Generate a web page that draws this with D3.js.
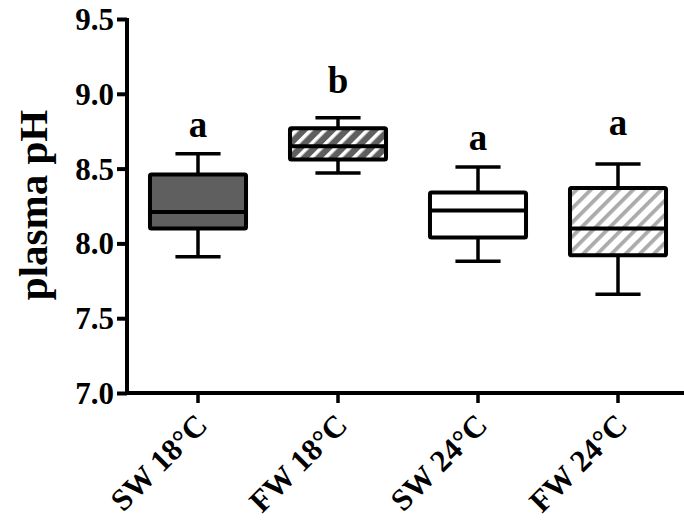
<!DOCTYPE html>
<html>
<head>
<meta charset="utf-8">
<script src="https://cdn.jsdelivr.net/npm/d3@7"></script>
<style>
  html, body { margin: 0; padding: 0; background: #fff; }
  svg { display: block; }
  text { font-family: "Liberation Serif", "Times New Roman", serif; font-weight: bold; fill: #000; }
</style>
</head>
<body>
<svg id="chart" width="684" height="523"></svg>
<script>
// ---- data ----
const categories = ["SW 18°C", "FW 18°C", "SW 24°C", "FW 24°C"];
const whiskerLow  = [7.91, 8.47, 7.88, 7.66];
const q1          = [8.10, 8.56, 8.04, 7.92];
const median      = [8.21, 8.65, 8.22, 8.10];
const q3          = [8.46, 8.77, 8.34, 8.37];
const whiskerHigh = [8.60, 8.84, 8.51, 8.53];
const sigLetters  = ["a", "b", "a", "a"];
const letterLevel = [8.71, 9.005, 8.625, 8.725];
const yTicks      = [7.0, 7.5, 8.0, 8.5, 9.0, 9.5];
const fills       = ["solid-dark", "hatch-dark", "white", "hatch-light"];

(function () {
const svg = d3.select("#chart");
const leftX = 127, topY = 19, bottomY = 393;

const y = d3.scaleLinear().domain([7.0, 9.5]).range([bottomY, topY]);
const x = d3.scaleBand().domain(categories).range([128, 688]).padding(0);
const boxW = x.bandwidth() * 0.686;
const capW = boxW * 0.47;
const cx = c => x(c) + x.bandwidth() / 2;

// patterns
const defs = svg.append("defs");
const p1 = defs.append("pattern").attr("id", "hatch-dark")
  .attr("patternUnits", "userSpaceOnUse").attr("width", 10).attr("height", 10)
  .attr("patternTransform", "rotate(45)");
p1.append("rect").attr("width", 10).attr("height", 10).attr("fill", "#5f5f5f");
p1.append("rect").attr("width", 3.6).attr("height", 10).attr("fill", "#ffffff");
const p2 = defs.append("pattern").attr("id", "hatch-light")
  .attr("patternUnits", "userSpaceOnUse").attr("width", 10).attr("height", 10)
  .attr("patternTransform", "rotate(45)");
p2.append("rect").attr("width", 10).attr("height", 10).attr("fill", "#ffffff");
p2.append("rect").attr("width", 3.8).attr("height", 10).attr("fill", "#ababab");

const fillOf = k => k === "solid-dark" ? "#5f5f5f" : k === "white" ? "#ffffff" : `url(#${k})`;

const data = categories.map((c, i) => ({
  c, lo: whiskerLow[i], q1: q1[i], med: median[i], q3: q3[i], hi: whiskerHigh[i],
  letter: sigLetters[i], ly: letterLevel[i], fill: fills[i]
}));

const g = svg.append("g").selectAll("g").data(data).join("g");

g.append("line").attr("x1", d => cx(d.c)).attr("x2", d => cx(d.c))
  .attr("y1", d => y(d.hi)).attr("y2", d => y(d.lo))
  .attr("stroke", "#000").attr("stroke-width", 3.5);
g.append("line").attr("x1", d => cx(d.c) - capW / 2).attr("x2", d => cx(d.c) + capW / 2)
  .attr("y1", d => y(d.hi)).attr("y2", d => y(d.hi))
  .attr("stroke", "#000").attr("stroke-width", 3.5);
g.append("line").attr("x1", d => cx(d.c) - capW / 2).attr("x2", d => cx(d.c) + capW / 2)
  .attr("y1", d => y(d.lo)).attr("y2", d => y(d.lo))
  .attr("stroke", "#000").attr("stroke-width", 3.5);
g.append("rect").attr("x", d => cx(d.c) - boxW / 2).attr("width", boxW)
  .attr("y", d => y(d.q3)).attr("height", d => y(d.q1) - y(d.q3))
  .attr("fill", d => fillOf(d.fill)).attr("stroke", "#000").attr("stroke-width", 4)
  .attr("rx", 1.5);
g.append("line").attr("x1", d => cx(d.c) - boxW / 2).attr("x2", d => cx(d.c) + boxW / 2)
  .attr("y1", d => y(d.med)).attr("y2", d => y(d.med))
  .attr("stroke", "#000").attr("stroke-width", 4);
g.append("text").attr("x", d => cx(d.c)).attr("y", d => y(d.ly))
  .attr("text-anchor", "middle").attr("font-size", 37).text(d => d.letter);

// y axis
const yAxis = svg.append("g").attr("transform", `translate(${leftX},0)`)
  .call(d3.axisLeft(y).tickValues(yTicks).tickFormat(d3.format(".1f")).tickSize(10).tickPadding(3));
yAxis.select(".domain").attr("stroke", "#000").attr("stroke-width", 4).attr("d", `M0,${topY - 1}V${bottomY + 2}`);
yAxis.selectAll(".tick line").attr("stroke", "#000").attr("stroke-width", 4);
yAxis.selectAll(".tick text").attr("font-size", 31).attr("font-family", "Liberation Serif, serif")
  .attr("font-weight", "bold").attr("fill", "#000").attr("dy", "0.34em");

// x axis
const xAxis = svg.append("g").attr("transform", `translate(0,${bottomY})`)
  .call(d3.axisBottom(x).tickSize(10).tickSizeOuter(0));
xAxis.select(".domain").attr("stroke", "#000").attr("stroke-width", 4).attr("d", `M${leftX - 2},0H690`);
xAxis.selectAll(".tick line").attr("stroke", "#000").attr("stroke-width", 3.5).attr("y1", 2);
xAxis.selectAll(".tick text")
  .attr("font-size", 31).attr("font-family", "Liberation Serif, serif").attr("font-weight", "bold")
  .attr("fill", "#000").attr("text-anchor", "end")
  .attr("y", 0).attr("dy", 0)
  .attr("transform", "translate(11,34) rotate(-45)");

// y title
svg.append("text").attr("transform", `translate(47,205) rotate(-90)`)
  .attr("text-anchor", "middle").attr("font-size", 41).text("plasma pH");
})();
</script>
</body>
</html>
